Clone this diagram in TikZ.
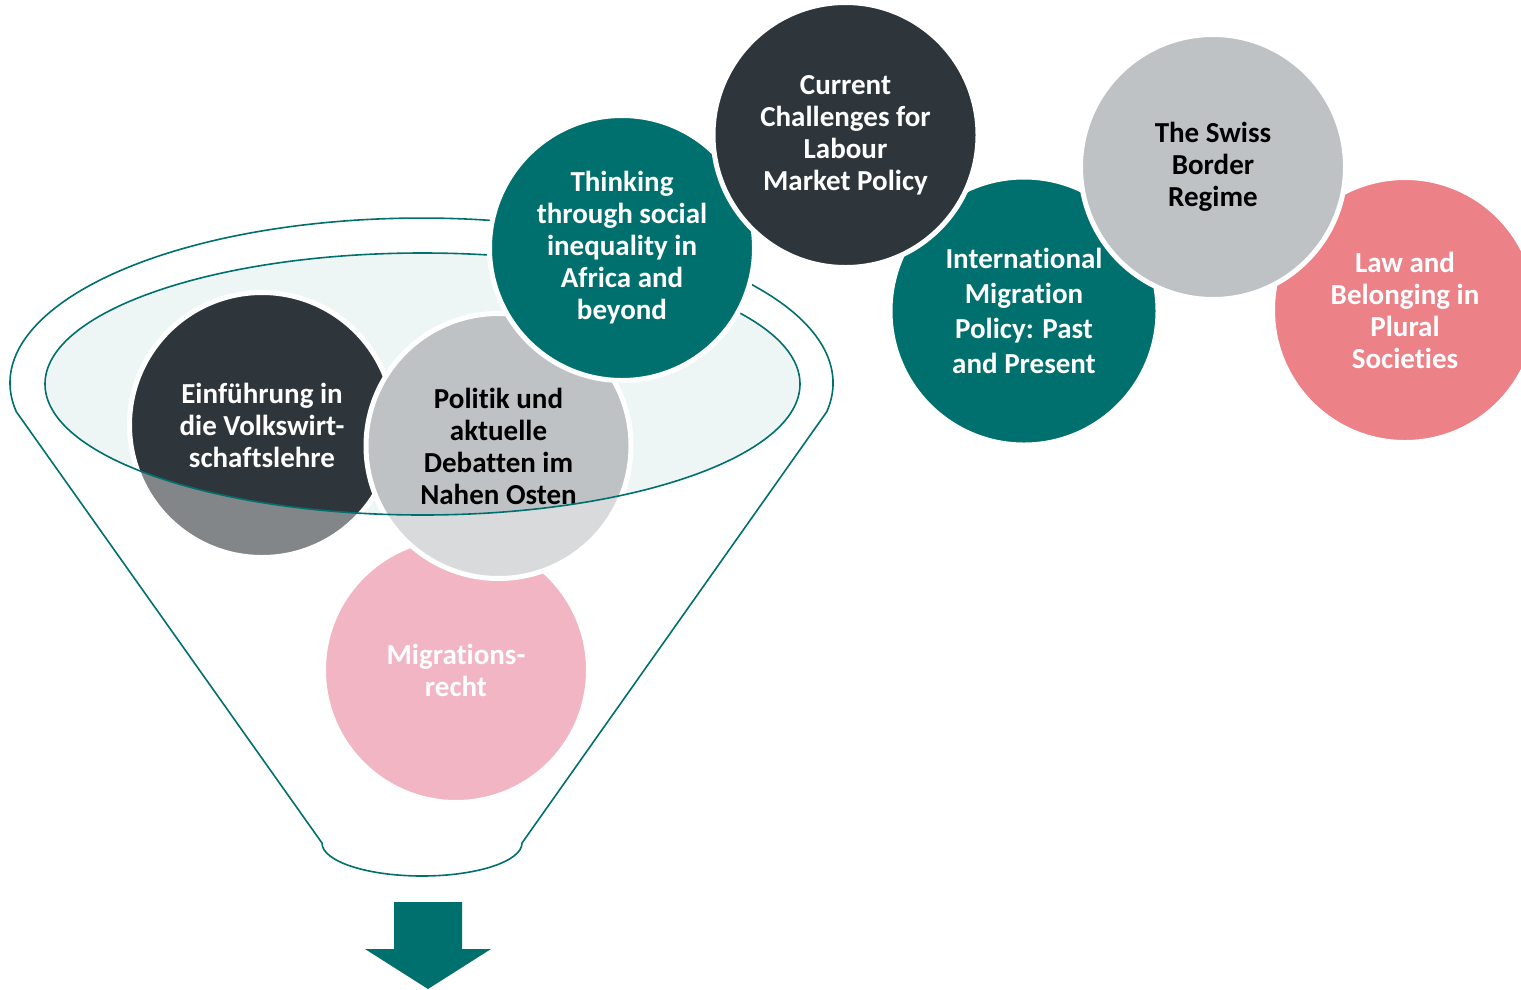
\documentclass[tikz,border=0pt]{standalone}
\usepackage{fontspec}
\setmainfont{Carlito}[Ligatures=NoCommon]
\usepackage{tikz}
\usetikzlibrary{positioning}
\definecolor{slate}{HTML}{2F363B}
\definecolor{petrol}{HTML}{00706E}
\definecolor{stone}{HTML}{BEC2C5}
\definecolor{rose}{HTML}{EC8188}
\definecolor{blush}{HTML}{EA849C}
\definecolor{mist}{HTML}{EEF6F5}
\tikzset{
  bubble/.style={circle, draw=white, line width=5pt, minimum size=265pt,
    inner sep=0pt, align=center, text=white,
    font=\fontsize{29}{32}\selectfont\bfseries},
  funnel line/.style={draw=petrol, line width=1.6pt}
}

\begin{document}
\begin{tikzpicture}[x=1pt, y=1pt]

\clip (0,0) rectangle (1521,-989);
\useasboundingbox (0,0) rectangle (1521,-989);

% ================= Funnel: inner ellipse =================
\fill[mist] (422.5,-384) ellipse [x radius=377.5, y radius=131];

% ================= Courses inside the funnel =================
\node[bubble, fill=slate] (vwl) at (262,-425)
  {Einführung in\\die Volkswirt-\\schaftslehre};
\node[bubble, fill=blush] (recht) at (456,-670)
  {Migrations-\\recht};
\node[bubble, fill=stone, text=black] (nahost) at (498.5,-446)
  {Politik und\\aktuelle\\Debatten im\\Nahen Osten};

% front of the funnel
\fill[white, fill opacity=0.4, even odd rule]
  (16.3,-411.7) arc[start angle=190, end angle=-10, x radius=411.5, y radius=165]
  -- (522,-843) arc[start angle=0, end angle=-180, x radius=100, y radius=33]
  -- cycle
  (422.5,-384) ellipse [x radius=377.5, y radius=131];

% ================= Funnel outline =================
\draw[funnel line]
  (16.3,-411.7) arc[start angle=190, end angle=-10, x radius=411.5, y radius=165]
  -- (522,-843) arc[start angle=0, end angle=-180, x radius=100, y radius=33]
  -- cycle;
\draw[funnel line] (422.5,-384) ellipse [x radius=377.5, y radius=131];

% ================= Courses outside the funnel =================
\node[bubble, fill=petrol] (afrika) at (622,-248)
  {Thinking\\through social\\inequality in\\Africa and\\beyond};
\node[bubble, fill=petrol, minimum size=268pt,
  font=\fontsize{29}{35}\selectfont\bfseries] (intmig) at (1024,-311)
  {International\\Migration\\Policy: Past\\and Present};
\node[bubble, fill=rose] (plural) at (1405,-310)
  {Law and\\Belonging in\\Plural\\Societies};
\node[bubble, fill=slate] (labour) at (845.5,-135)
  {Current\\Challenges for\\Labour\\Market Policy};
\node[bubble, fill=stone, text=black] (border) at (1213,-167)
  {The Swiss\\Border\\Regime};

% ================= Outflow arrow =================
\fill[petrol] (394,-902) -- (462,-902) -- (462,-949) -- (491,-949)
  -- (428,-989) -- (365,-949) -- (394,-949) -- cycle;

\end{tikzpicture}
\end{document}
